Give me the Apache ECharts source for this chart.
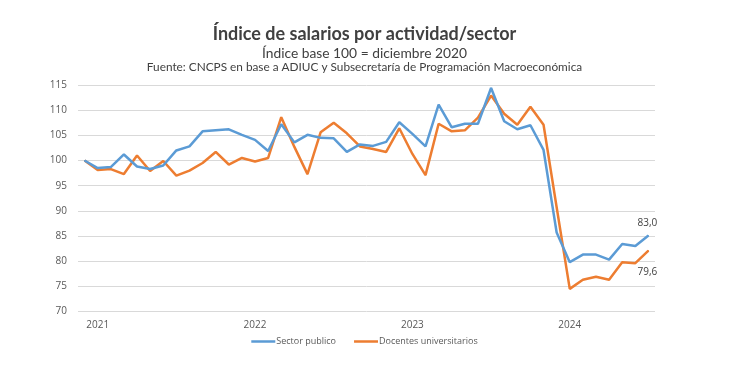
<!DOCTYPE html>
<html><head><meta charset="utf-8">
<script src="https://cdn.jsdelivr.net/npm/echarts@6/dist/echarts.min.js"></script>
<style>html,body{margin:0;padding:0;background:#fff}#c{width:729px;height:386px}</style>
</head><body><div id="c"></div>
<script>
// Categories: Dec 2020 .. Jul 2024 (monthly)
const months = [];
(function(){ let y=2020,m=12; for(let i=0;i<44;i++){ months.push(y+'-'+String(m).padStart(2,'0')); m++; if(m>12){m=1;y++;} } })();
const sectorPublico = [100, 98.5, 98.7, 101.2, 98.8, 98.3, 99.0, 102.0, 102.8, 105.8, 106.0, 106.2, 105.1, 104.1, 101.9, 107.2, 103.6, 105.1, 104.5, 104.4, 101.7, 103.2, 102.9, 103.7, 107.6, 105.3, 102.8, 111.1, 106.6, 107.3, 107.3, 114.4, 107.8, 106.2, 107.0, 102.1, 85.7, 79.8, 81.3, 81.3, 80.3, 83.4, 83.0, 85.1];
const docentes = [100, 98.1, 98.3, 97.3, 101.0, 97.9, 99.9, 97.0, 98.0, 99.5, 101.7, 99.2, 100.5, 99.8, 100.5, 108.6, 102.7, 97.3, 105.6, 107.5, 105.4, 102.8, 102.3, 101.7, 106.4, 101.3, 97.1, 107.3, 105.8, 106.0, 108.5, 112.9, 109.3, 107.1, 110.7, 107.1, 90.7, 74.5, 76.3, 76.9, 76.3, 79.8, 79.6, 82.1];
const labelIndex = 42;
const yTicks = {min: 70, max: 115, interval: 5};

const fmt = v => v.toFixed(1).replace('.', ',');
function withLabel(arr, pos, offset){
  return arr.map((v,i)=> i===labelIndex ? {value:v, label:{show:true, position:pos, offset:offset, formatter:()=>fmt(v), color:'#404040', fontSize:10, fontFamily:'Open Sans'}} : v);
}
const chart = echarts.init(document.getElementById('c'));
chart.setOption({
  animation:false,
  title:[
    {text:'Índice de salarios por actividad/sector', left:'center', top:20, textStyle:{fontFamily:'Lato', fontWeight:'bold', fontSize:18, color:'#404040'}},
    {text:'Índice base 100 = diciembre 2020', left:'center', top:42, textStyle:{fontFamily:'Lato', fontWeight:'normal', fontSize:13.8, color:'#404040'}},
    {text:'Fuente: CNCPS en base a ADIUC y Subsecretaría de Programación Macroeconómica', left:'center', top:56, textStyle:{fontFamily:'Lato', fontWeight:'normal', fontSize:11.8, color:'#404040'}}
  ],
  grid:{left:78, right:74, top:85, bottom:74.5, containLabel:false},
  legend:{bottom:35, left:'center', icon:'rect', itemWidth:24, itemHeight:2.5, itemGap:18,
    textStyle:{fontFamily:'Open Sans', fontSize:9, color:'#595959', padding:[0,0,0,-4]},
    data:[{name:'Sector publico', itemStyle:{color:'#5B9BD5'}},{name:'Docentes universitarios', itemStyle:{color:'#ED7D31'}}]},
  xAxis:{type:'category', data:months, boundaryGap:true,
    axisLine:{show:false}, axisTick:{show:false},
    axisLabel:{interval:0, color:'#595959', fontSize:10, fontFamily:'Open Sans', margin:9,
      formatter:(v)=> v.endsWith('-01') ? v.slice(0,4) : ''}},
  yAxis:{type:'value', min:yTicks.min, max:yTicks.max, interval:yTicks.interval,
    axisLine:{show:false}, axisTick:{show:false},
    splitLine:{lineStyle:{color:'#d9d9d9', width:1}},
    axisLabel:{color:'#595959', fontSize:10, fontFamily:'Open Sans', margin:11}},
  series:[
    {name:'Sector publico', type:'line', data:withLabel(sectorPublico,'top',[12,-12]), symbol:'circle', symbolSize:1, showSymbol:true,
      lineStyle:{color:'#5B9BD5', width:2.5}, itemStyle:{color:'#5B9BD5'}, z:3},
    {name:'Docentes universitarios', type:'line', data:withLabel(docentes,'bottom',[12,-2]), symbol:'circle', symbolSize:1, showSymbol:true,
      lineStyle:{color:'#ED7D31', width:2.5}, itemStyle:{color:'#ED7D31'}, z:2}
  ]
});
</script></body></html>
